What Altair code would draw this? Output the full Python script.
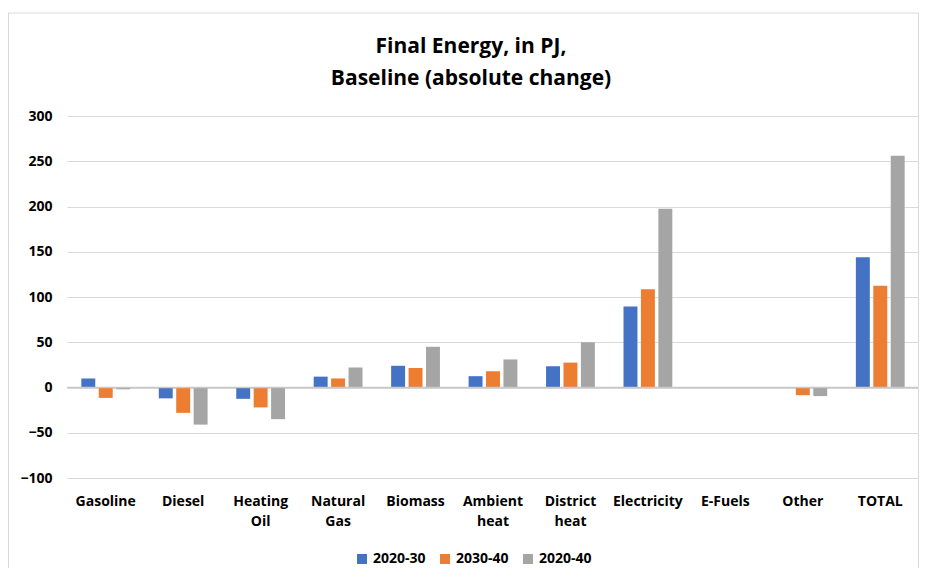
import altair as alt
import pandas as pd

categories = ["Gasoline", "Diesel", "Heating Oil", "Natural Gas", "Biomass",
              "Ambient heat", "District heat", "Electricity", "E-Fuels", "Other", "TOTAL"]
series = ["2020-30", "2030-40", "2020-40"]
v_2020_30 = [10, -12, -12.5, 12, 24, 12.5, 23.5, 89.5, 0, -0.5, 144]
v_2030_40 = [-11.5, -28, -22, 10, 21.5, 18, 27.5, 108.5, 0, -8.5, 112.5]
v_2020_40 = [-2, -41, -35, 22, 45, 31, 50, 197.5, 0, -9.5, 256]
colors = ["#4472C4", "#ED7D31", "#A5A5A5"]
y_ticks = [-100, -50, 0, 50, 100, 150, 200, 250, 300]

rows = []
for s, vals in zip(series, [v_2020_30, v_2030_40, v_2020_40]):
    for c, v in zip(categories, vals):
        rows.append({"category": c, "series": s, "value": v})
df = pd.DataFrame(rows)

FONT = "Open Sans"

bars = alt.Chart(df).mark_bar().encode(
    x=alt.X("category:N", sort=categories, title=None,
            scale=alt.Scale(paddingInner=0.37, paddingOuter=0.185),
            axis=alt.Axis(labelAngle=0, ticks=False, domain=False,
                          labelExpr="split(datum.label, ' ')",
                          labelPadding=16, labelLineHeight=20,
                          labelFont=FONT, labelFontWeight="bold",
                          labelFontSize=14, labelColor="#000000")),
    xOffset=alt.XOffset("series:N", sort=series,
                        scale=alt.Scale(paddingInner=0.2)),
    y=alt.Y("value:Q", title=None,
            scale=alt.Scale(domain=[-100, 300], nice=False),
            axis=alt.Axis(values=y_ticks, ticks=False, domain=False,
                          labelPadding=15, gridColor="#d9d9d9",
                          labelFont=FONT, labelFontWeight="bold",
                          labelFontSize=14, labelColor="#000000")),
    color=alt.Color("series:N", sort=series,
                    scale=alt.Scale(domain=series, range=colors),
                    legend=alt.Legend(title=None, orient="none",
                                      direction="horizontal",
                                      legendX=288, legendY=436,
                                      symbolType="square", symbolSize=100,
                                      symbolStrokeWidth=0, columnPadding=12,
                                      labelOffset=4,
                                      labelFont=FONT, labelFontWeight="bold",
                                      labelFontSize=14, labelColor="#000000")),
)

zero = alt.Chart(pd.DataFrame({"y": [0]})).mark_rule(
    color="#c8c8c8", strokeWidth=1.5).encode(y="y:Q")

border = alt.Chart(pd.DataFrame({"a": [0]})).mark_rect(
    fill=None, stroke="#d9d9d9", strokeWidth=1).encode(
    x=alt.value(-58.5), x2=alt.value(851.5), y=alt.value(-103), y2=alt.value(462))

chart = alt.layer(bars, zero, border).properties(
    width=852, height=362,
    autosize=alt.AutoSizeParams(type="none"),
    padding={"left": 59, "top": 108, "right": 0, "bottom": 90},
    title=alt.Title(["Final Energy, in PJ,", "Baseline (absolute change)"],
                    font=FONT, fontSize=21, fontWeight="bold", color="#000000",
                    anchor="middle", frame="group", dx=-22, offset=-97,
                    lineHeight=32, baseline="bottom"),
).configure_view(stroke=None)

chart.save("out.html", embed_options={"renderer": "svg", "actions": False})
